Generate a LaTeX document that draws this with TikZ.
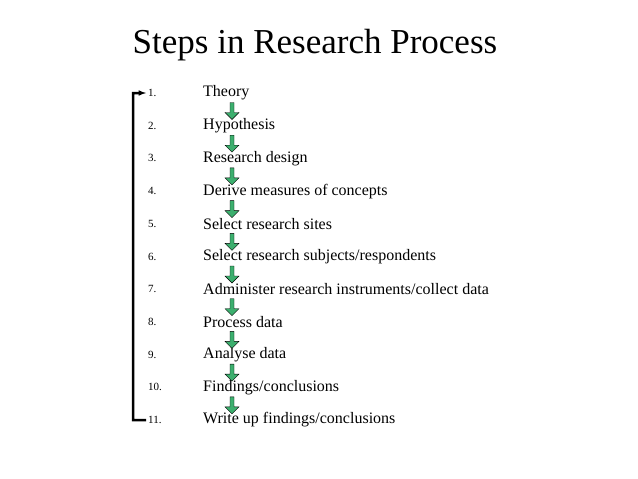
\documentclass[tikz,border=0pt]{standalone}
\usepackage{fontspec}
\setmainfont{Liberation Serif}
\usetikzlibrary{shapes.arrows,positioning}
\definecolor{arrowgreen}{RGB}{60,175,110}
\begin{document}
\begin{tikzpicture}[x=1pt,y=-1pt,
    num/.style={anchor=west,font=\fontsize{11}{13}\selectfont,inner sep=0pt},
    item/.style={anchor=west,font=\fontsize{16}{18}\selectfont,inner sep=0pt},
    blockarrow/.style={single arrow,draw=black,fill=arrowgreen,thin,rotate=-90,
      minimum height=17pt,minimum width=14pt,single arrow head extend=3pt,inner sep=1pt}]
  \useasboundingbox (0,0) rectangle (638,479);
  \node[font=\fontsize{35}{40}\selectfont] (title) at (315,45) {Steps in Research Process};

  \foreach \T [count=\i] in {Theory,Hypothesis,Research design,Derive measures of concepts,
      Select research sites,Select research subjects/respondents,
      Administer research instruments/collect data,Process data,Analyse data,
      Findings/conclusions,Write up findings/conclusions}
  {
    \node[num] (n\i) at (148,{93+32.7*(\i-1)}) {\i.};
    \node[item] (t\i) at (203,{93+32.7*(\i-1)}) {\T};
  }
  \foreach \i [evaluate=\i as \y using 93+32.7*(\i-1)+17] in {1,...,10}
    \node[blockarrow] (a\i) at (232,\y) {};

  % feedback bracket
  \draw[line width=2.5pt] ([xshift=-2pt]n11.west) -- (133,420) coordinate (bl) -- (133,93) -- (140,93);
  \draw[-latex,line width=1.5pt] (138,93) -- ([xshift=-2pt]n1.west);
\end{tikzpicture}
\end{document}
